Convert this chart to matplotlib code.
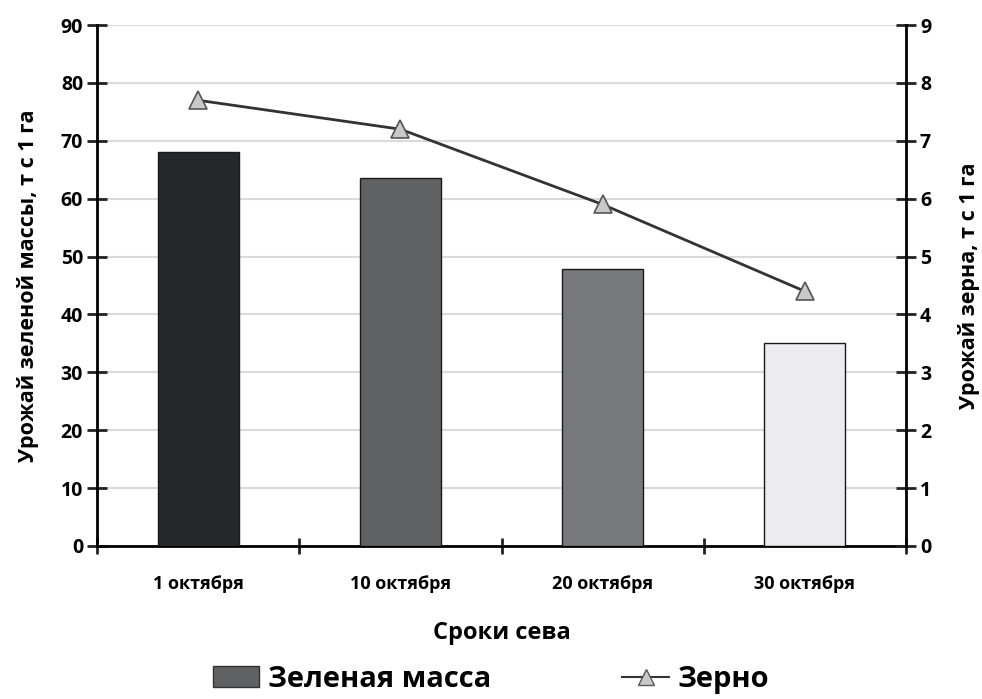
import numpy as np
import matplotlib.pyplot as plt
from matplotlib.lines import Line2D
from matplotlib.patches import Patch

# Data
dates = ["1 октября", "10 октября", "20 октября", "30 октября"]
green_mass = [68.0, 63.6, 47.8, 35.0]
grain = [7.7, 7.2, 5.9, 4.4]
bar_colors = ["#262728", "#5f6163", "#77797c", "#ececee"]

plt.rcParams['font.family'] = ['Open Sans', 'DejaVu Sans']
plt.rcParams['font.weight'] = 'bold'

fig = plt.figure(figsize=(9.82, 6.99), dpi=100)
ax = fig.add_axes([0.0988, 0.2189, 0.8238, 0.7453])
x = np.arange(len(dates))

# Bars for green mass
ax.bar(x, green_mass, width=0.4, color=bar_colors, edgecolor="#1a1a1a",
       linewidth=1.0, zorder=3)
ax.set_xlim(-0.5, len(dates) - 0.5)
ax.set_ylim(0, 90)
ax.set_yticks(range(0, 91, 10))
ax.yaxis.grid(True, color="#d9dadc", linewidth=1.5, zorder=0)
ax.set_xticks(np.arange(-0.5, len(dates), 1.0))
ax.set_xticklabels([])
ax.set_xticks(x, minor=True)
ax.set_xticklabels(dates, minor=True, fontsize=13, fontweight='bold')
ax.tick_params(axis='x', which='minor', length=0, pad=21)
ax.tick_params(axis='x', which='major', direction='inout', length=12,
               width=2, color="#222222")
ax.tick_params(axis='y', direction='inout', length=14, width=2,
               color="#222222", labelsize=14, pad=3)
for s in ["top", "right"]:
    ax.spines[s].set_visible(False)
ax.spines["left"].set_linewidth(2)
ax.spines["bottom"].set_linewidth(2)
ax.set_ylabel("Урожай зеленой массы, т с 1 га", fontsize=15.5,
              fontweight='bold', labelpad=16)
ax.set_xlabel("Сроки сева", fontsize=17, fontweight='bold', labelpad=20)

# Line for grain on the right axis
ax2 = ax.twinx()
ax2.plot(x, grain, color="#333333", linewidth=2, marker="^", markersize=13,
         markerfacecolor="#c8c9cb", markeredgecolor="#555555",
         markeredgewidth=1.2, zorder=4)
ax2.set_ylim(0, 9)
ax2.set_yticks(range(0, 10))
ax2.tick_params(axis='y', direction='inout', length=14, width=2,
                color="#222222", labelsize=14, pad=3)
for s in ["top", "left", "bottom"]:
    ax2.spines[s].set_visible(False)
ax2.spines["right"].set_linewidth(2)
ax2.set_ylabel("Урожай зерна, т с 1 га", fontsize=15.5, fontweight='bold',
               labelpad=19)

handles = [Patch(facecolor="#5f6163", edgecolor="#333333"),
           Line2D([0], [0], color="#333333", linewidth=1.5, marker="^",
                  markersize=11, markerfacecolor="#c8c9cb",
                  markeredgecolor="#555555")]
fig.legend(handles, ["Зеленая масса", "Зерно"], loc="lower center",
           bbox_to_anchor=(0.5, -0.03), ncol=2, frameon=False,
           prop={'size': 21, 'weight': 'bold'}, columnspacing=4.5,
           handlelength=1.6, handletextpad=0.3)

fig.savefig("out.png", dpi=100)
